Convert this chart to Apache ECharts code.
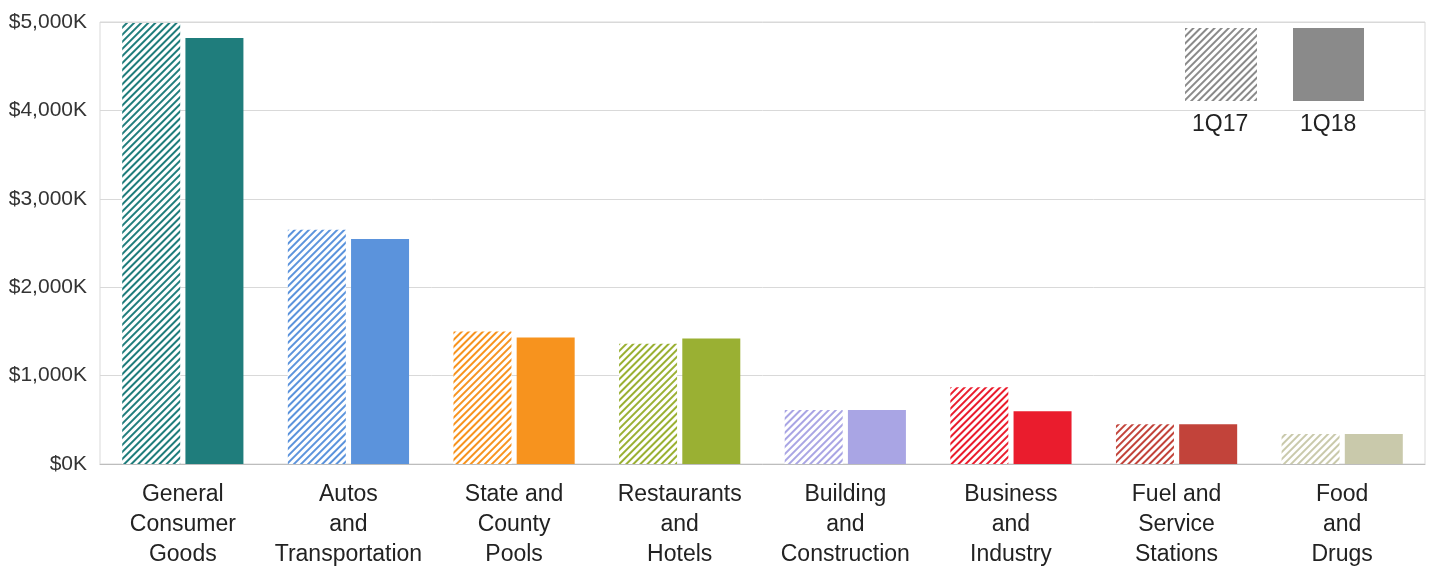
<!DOCTYPE html>
<html><head><meta charset="utf-8">
<script src="https://cdn.jsdelivr.net/npm/echarts@6/dist/echarts.min.js"></script>
<style>html,body{margin:0;padding:0;background:#fff}#c{width:1431px;height:570px}</style>
</head><body><div id="c"></div>
<script>
const categories = ["General\nConsumer\nGoods","Autos\nand\nTransportation","State and\nCounty\nPools","Restaurants\nand\nHotels","Building\nand\nConstruction","Business\nand\nIndustry","Fuel and\nService\nStations","Food\nand\nDrugs"];
const colors = ["#1f7d7c","#5b93dc","#f7931e","#9ab033","#a9a5e4","#ea1c2d","#c2433a","#c9c9ab"];
const q17 = [4990, 2650, 1500, 1360, 610, 867, 450, 338];
const q18 = [4820, 2545, 1430, 1420, 610, 597, 450, 338];
const seriesNames = ["1Q17","1Q18"];
const yTicks = [0, 1000, 2000, 3000, 4000, 5000];

function hatch(color){
  return {symbol:'rect', symbolSize:1, dashArrayX:[1,0], dashArrayY:[2,3], rotation:-Math.PI/4, color:color, backgroundColor:'#fff'};
}
const chart = echarts.init(document.getElementById('c'));
chart.setOption({
  animation:false,
  grid:{left:100,right:6,top:22,bottom:104,show:true,borderColor:'#d9d9d9',borderWidth:1},
  xAxis:{type:'category',data:categories,
    axisLine:{lineStyle:{color:'#bdbdbd'}},axisTick:{show:false},
    axisLabel:{interval:0,fontFamily:'Liberation Sans',fontSize:23,lineHeight:30,color:'#222',margin:16}},
  yAxis:{type:'value',min:yTicks[0],max:yTicks[yTicks.length-1],interval:1000,
    splitLine:{lineStyle:{color:'#d9d9d9'}},
    axisLabel:{fontFamily:'Liberation Sans',fontSize:21,color:'#333',margin:13,
      formatter:v=>'$'+(v).toLocaleString('en-US')+'K'}},
  legend:[
    {data:[seriesNames[0]],left:1180,top:23,itemWidth:72,itemHeight:73,formatter:()=>'',icon:'rect',selectedMode:false},
    {data:[seriesNames[1]],left:1288,top:23,itemWidth:71,itemHeight:73,formatter:()=>'',icon:'rect',selectedMode:false}
  ],
  graphic:[
    {type:'text',left:1192,top:113,style:{text:seriesNames[0],font:'23px "Liberation Sans"',fill:'#222'}},
    {type:'text',left:1300,top:113,style:{text:seriesNames[1],font:'23px "Liberation Sans"',fill:'#222'}}
  ],
  series:[
    {name:seriesNames[0],type:'bar',barWidth:58,barGap:'9%',
      itemStyle:{color:'#fff',decal:hatch('#8a8a8a')},
      data:q17.map((v,i)=>({value:v,itemStyle:{color:'#fff',decal:hatch(colors[i])}}))},
    {name:seriesNames[1],type:'bar',barWidth:58,barGap:'9%',
      itemStyle:{color:'#8a8a8a'},
      data:q18.map((v,i)=>({value:v,itemStyle:{color:colors[i]}}))}
  ]
});
</script></body></html>
